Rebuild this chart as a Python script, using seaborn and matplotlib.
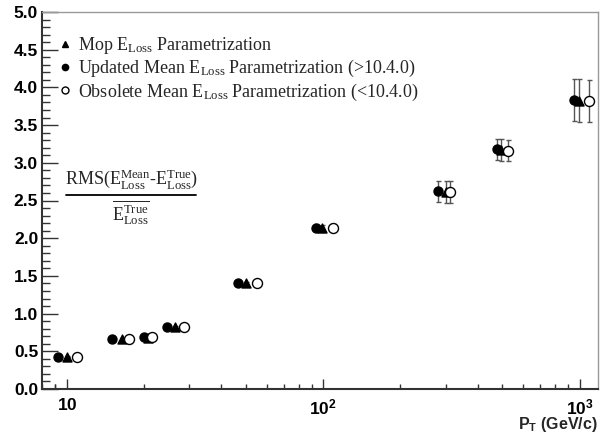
import numpy as np
import pandas as pd
import seaborn as sns
import matplotlib
matplotlib.use("Agg")
import matplotlib.pyplot as plt
from matplotlib.lines import Line2D
from matplotlib.ticker import FixedLocator, FixedFormatter, MultipleLocator, FormatStrFormatter

# ---- data ----
updated_x = [9.2, 15.0, 20.0, 24.5, 46.6, 93.5, 279, 477, 955]
updated_y = [0.43, 0.66, 0.69, 0.82, 1.40, 2.14, 2.62, 3.18, 3.83]
updated_err = [0.01, 0.01, 0.01, 0.01, 0.02, 0.05, 0.145, 0.14, 0.28]

mop_x = [10.0, 16.4, 20.7, 26.4, 49.8, 98.4, 300, 495, 993]
mop_y = [0.43, 0.66, 0.68, 0.82, 1.40, 2.13, 2.61, 3.17, 3.82]
mop_err = [0.01, 0.01, 0.01, 0.01, 0.02, 0.05, 0.145, 0.14, 0.285]

obsolete_x = [10.9, 17.4, 21.5, 28.5, 55.0, 109.4, 311, 525, 1093]
obsolete_y = [0.43, 0.66, 0.69, 0.82, 1.40, 2.14, 2.61, 3.16, 3.82]
obsolete_err = [0.01, 0.01, 0.01, 0.01, 0.02, 0.05, 0.145, 0.14, 0.28]

labels = [r"Mop E$_{\rm Loss}$ Parametrization",
          r"Updated Mean E$_{\rm Loss}$ Parametrization (>10.4.0)",
          r"Obsolete Mean E$_{\rm Loss}$ Parametrization (<10.4.0)"]
xtick_vals = [10, 100, 1000]
xtick_labels = [r"$\mathbf{10}$", r"$\mathbf{10^{2}}$", r"$\mathbf{10^{3}}$"]

sns.set_theme(style="ticks")
plt.rcParams["font.family"] = ["Liberation Sans", "DejaVu Sans"]
plt.rcParams["mathtext.fontset"] = "custom"
plt.rcParams["mathtext.rm"] = "Liberation Serif"
plt.rcParams["mathtext.it"] = "Liberation Serif:italic"
plt.rcParams["mathtext.bf"] = "Liberation Sans:bold"

W, H = 601, 434
fig = plt.figure(figsize=(W / 100, H / 100), dpi=100)
L, R, B, T = 42.3, 598, 389, 12
ax = fig.add_axes([L / W, 1 - B / H, (R - L) / W, (B - T) / H])

df = pd.concat([
    pd.DataFrame({"x": updated_x, "y": updated_y, "e": updated_err, "s": "updated"}),
    pd.DataFrame({"x": mop_x, "y": mop_y, "e": mop_err, "s": "mop"}),
    pd.DataFrame({"x": obsolete_x, "y": obsolete_y, "e": obsolete_err, "s": "obsolete"}),
])

ebc = "#555555"
for s, d in df.groupby("s"):
    ax.errorbar(d["x"], d["y"], yerr=d["e"], fmt="none", ecolor=ebc,
                elinewidth=1.0, capsize=1.8, capthick=1.0, zorder=2)

styles = {"updated": dict(marker="o", s=42, color="black", edgecolor="black"),
          "mop": dict(marker="^", s=42, color="black", edgecolor="black"),
          "obsolete": dict(marker="o", s=52, color="white", edgecolor="black")}
for s in ["updated", "mop", "obsolete"]:
    d = df[df["s"] == s]
    sns.scatterplot(data=d, x="x", y="y", ax=ax, linewidth=1.0, zorder=3,
                    legend=False, **styles[s])

ax.set_xscale("log")
ax.set_xlim(8, 1180)
ax.set_ylim(0, 5)
ax.set_xlabel("")
ax.set_ylabel("")

ax.xaxis.set_major_locator(FixedLocator(xtick_vals))
ax.xaxis.set_major_formatter(FixedFormatter(xtick_labels))
minors = [v * m for v in [1, 10, 100] for m in range(2, 10)] + [9]
ax.xaxis.set_minor_locator(FixedLocator(minors))
ax.xaxis.set_minor_formatter(FixedFormatter([""] * len(minors)))
ax.yaxis.set_major_locator(MultipleLocator(0.5))
ax.yaxis.set_minor_locator(MultipleLocator(0.1))
ax.yaxis.set_major_formatter(FormatStrFormatter("%.1f"))

ax.tick_params(axis="both", which="both", direction="in", top=False, right=False,
               colors="#333333", width=1.0)
ax.tick_params(axis="y", which="major", length=11.5, labelsize=12.5, pad=3)
ax.tick_params(axis="y", which="minor", length=5.8)
ax.tick_params(axis="x", which="major", length=7.2, labelsize=12.5, pad=6)
ax.tick_params(axis="x", which="minor", length=3.6)
for lab in ax.get_yticklabels() + ax.get_xticklabels():
    lab.set_fontweight("bold")
    lab.set_color("black")

for sp in ["left", "bottom"]:
    ax.spines[sp].set_color("#333333")
    ax.spines[sp].set_linewidth(1.5)
for sp in ["right", "top"]:
    ax.spines[sp].set_visible(True)
    ax.spines[sp].set_color("#999999")
    ax.spines[sp].set_linewidth(1.0)

# legend
handles = [Line2D([], [], marker="^", ls="none", color="black", markersize=4.5),
           Line2D([], [], marker="o", ls="none", color="black", markersize=4.5),
           Line2D([], [], marker="o", ls="none", markerfacecolor="white",
                  markeredgecolor="black", markersize=5)]
leg = fig.legend(handles, labels, loc="upper left",
                 bbox_to_anchor=(60 / W, 1 - 35 / H), frameon=False,
                 prop={"family": "Liberation Serif", "size": 13},
                 handlelength=0.6, handletextpad=0.4, labelspacing=0.12,
                 borderpad=0, borderaxespad=0)

# formula
fig.text(131 / W, 1 - 179 / H,
         r"RMS(E$^{\rm Mean}_{\rm Loss}$-E$^{\rm True}_{\rm Loss}$)",
         family="Liberation Serif", size=13, ha="center", va="center")
fig.add_artist(Line2D([66 / W, 196 / W], [1 - 195 / H, 1 - 195 / H],
                      color="black", lw=1.3, transform=fig.transFigure))
fig.text(131 / W, 1 - 213 / H, r"$\overline{\rm E^{True}_{Loss}}$",
         family="Liberation Serif", size=13, ha="center", va="center")

# x axis title
fig.text(598 / W, 1 - 425 / H, r"P$_{\mathbf{T}}$ (GeV/c)", ha="right", va="center",
         fontweight="bold", size=11.5)

fig.savefig("out.png", dpi=100)
